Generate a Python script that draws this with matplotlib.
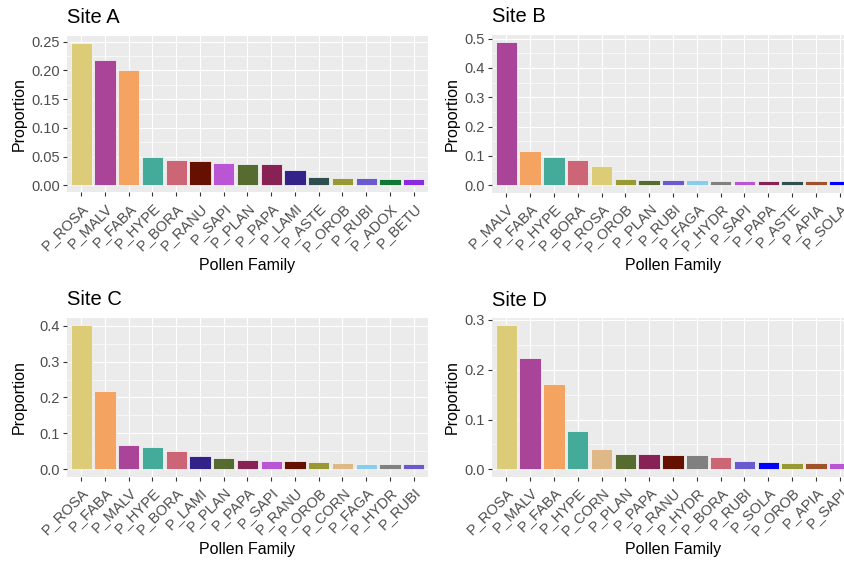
import matplotlib
matplotlib.use("Agg")
import matplotlib.pyplot as plt
from matplotlib.ticker import MultipleLocator, FormatStrFormatter

plt.rcParams['font.family'] = ['Liberation Sans', 'DejaVu Sans']

# Pollen family proportions per site (sorted descending)
site_a_families = ["P_ROSA", "P_MALV", "P_FABA", "P_HYPE", "P_BORA", "P_RANU", "P_SAPI",
                   "P_PLAN", "P_PAPA", "P_LAMI", "P_ASTE", "P_OROB", "P_RUBI", "P_ADOX", "P_BETU"]
site_a_values = [0.248, 0.218, 0.200, 0.0494, 0.0442, 0.0424, 0.0395,
                 0.0378, 0.0366, 0.0267, 0.0151, 0.0134, 0.0134, 0.0116, 0.0116]

site_b_families = ["P_MALV", "P_FABA", "P_HYPE", "P_BORA", "P_ROSA", "P_OROB", "P_PLAN",
                   "P_RUBI", "P_FAGA", "P_HYDR", "P_SAPI", "P_PAPA", "P_ASTE", "P_APIA", "P_SOLA"]
site_b_values = [0.4886, 0.118, 0.0966, 0.0864, 0.0648, 0.0227, 0.0193,
                 0.017, 0.017, 0.0136, 0.0136, 0.0136, 0.0136, 0.0136, 0.0136]

site_c_families = ["P_ROSA", "P_FABA", "P_MALV", "P_HYPE", "P_BORA", "P_LAMI", "P_PLAN",
                   "P_PAPA", "P_SAPI", "P_RANU", "P_OROB", "P_CORN", "P_FAGA", "P_HYDR", "P_RUBI"]
site_c_values = [0.402, 0.2172, 0.0687, 0.0631, 0.0501, 0.0371, 0.0316,
                 0.026, 0.0241, 0.0241, 0.0213, 0.0186, 0.0158, 0.0139, 0.0139]

site_d_families = ["P_ROSA", "P_MALV", "P_FABA", "P_HYPE", "P_CORN", "P_PLAN", "P_PAPA",
                   "P_RANU", "P_HYDR", "P_BORA", "P_RUBI", "P_SOLA", "P_OROB", "P_APIA", "P_SAPI"]
site_d_values = [0.2893, 0.2237, 0.1714, 0.077, 0.0408, 0.0308, 0.0308,
                 0.0288, 0.0288, 0.0248, 0.0167, 0.0141, 0.0134, 0.0134, 0.0134]

family_colors = {
    "P_ROSA": "#DDCC77", "P_MALV": "#AA4499", "P_FABA": "#F4A460", "P_HYPE": "#44AA99",
    "P_BORA": "#CC6677", "P_RANU": "#661100", "P_SAPI": "#BA55D3", "P_PLAN": "#556B2F",
    "P_PAPA": "#882255", "P_LAMI": "#332288", "P_ASTE": "#2F4F4F", "P_OROB": "#999933",
    "P_RUBI": "#6A5ACD", "P_ADOX": "#117733", "P_BETU": "#8A2BE2", "P_FAGA": "#88CCEE",
    "P_HYDR": "#808080", "P_APIA": "#A0522D", "P_SOLA": "#0000FF", "P_CORN": "#DEB887",
}

W, H = 845, 561
fig = plt.figure(figsize=(W / 100, H / 100), dpi=100)


def px_axes(left, top, right, bottom):
    return fig.add_axes([left / W, 1 - bottom / H, (right - left) / W, (bottom - top) / H])


panels = [
    ("Site A", site_a_families, site_a_values, (67, 35.8, 428, 192.4), 0.05, "%.2f", 27),
    ("Site B", site_b_families, site_b_values, (492, 34.8, 854, 192.5), 0.1, "%.1f", 460),
    ("Site C", site_c_families, site_c_values, (67, 317.7, 428, 476.5), 0.1, "%.1f", 27),
    ("Site D", site_d_families, site_d_values, (492, 318.1, 854, 476.5), 0.1, "%.1f", 460),
]

for title, fams, vals, box, step, fmt, ylab_x in panels:
    ax = px_axes(*box)
    ax.set_facecolor("#EBEBEB")
    for s in ax.spines.values():
        s.set_visible(False)
    xs = list(range(len(fams)))
    ax.bar(xs, vals, width=0.9, color=[family_colors[f] for f in fams],
           edgecolor="#F2F2F2", linewidth=0.6, zorder=3)
    vmax = max(vals)
    pad = 0.05 * vmax
    ax.set_ylim(-pad, vmax + pad)
    ax.set_xlim(-0.6, len(fams) - 0.4)
    ax.yaxis.set_major_locator(MultipleLocator(step))
    ax.yaxis.set_minor_locator(MultipleLocator(step / 2))
    ax.yaxis.set_major_formatter(FormatStrFormatter(fmt))
    ax.set_xticks(xs)
    ax.set_xticklabels(fams, rotation=45, ha="right", va="top", rotation_mode="anchor")
    ax.grid(which="major", color="white", linewidth=0.85, zorder=0)
    ax.grid(which="minor", axis="y", color="white", linewidth=0.45, zorder=0)
    ax.set_axisbelow(True)
    ax.tick_params(axis="both", which="major", length=3, width=0.8, color="#333333",
                   labelcolor="#4D4D4D", labelsize=10.5, pad=2)
    ax.tick_params(axis="x", which="major", pad=3)
    ax.tick_params(axis="y", which="minor", length=0)
    ax.set_title(title, loc="left", fontsize=14.5, color="black", pad=9)
    ax.set_xlabel("Pollen Family", fontsize=11.5, color="black")
    ax.set_ylabel("Proportion", fontsize=11.5, color="black")
    height = box[3] - box[1]
    ax.xaxis.set_label_coords(0.5, -65.6 / height)
    ax.yaxis.set_label_coords((ylab_x - box[0]) / (box[2] - box[0]), 0.5)

fig.savefig("out.png", dpi=100, facecolor="white")
